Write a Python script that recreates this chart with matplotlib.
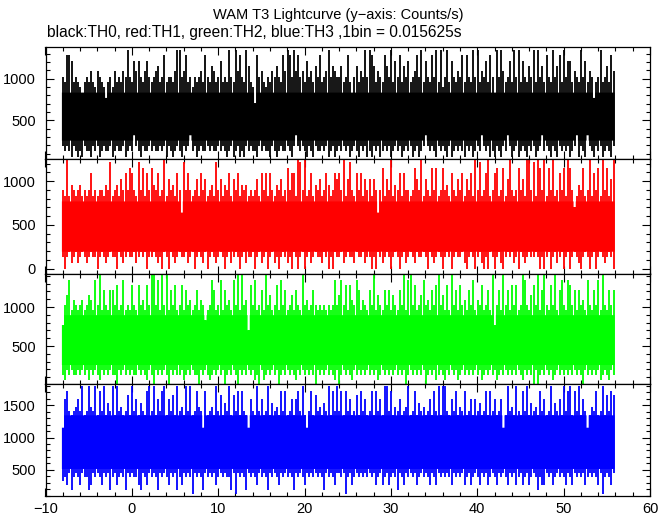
import numpy as np
import matplotlib
matplotlib.use('Agg')
import matplotlib.pyplot as plt
from matplotlib.ticker import MultipleLocator

plt.rcParams['font.family'] = ['Liberation Sans', 'DejaVu Sans']

# lightcurve: for every 0.25 s slice, the highest and lowest
# bin value (counts per 0.015625 s bin) drawn inside that slice
bin_size = 0.015625
t_start = -8.1
slice_len = 0.25

th0_max = [16, 15, 20, 20, 19, 15, 16, 15, 14, 13, 15, 16, 15, 17, 15, 14,
           17, 16, 15, 14, 12, 15, 16, 14, 17, 15, 16, 15, 17, 16, 21, 16,
           15, 19, 17, 19, 16, 15, 17, 19, 16, 15, 16, 17, 18, 15, 16, 20,
           15, 16, 16, 15, 17, 21, 21, 16, 17, 20, 15, 16, 14, 16, 15, 16,
           17, 15, 20, 16, 15, 18, 17, 15, 16, 19, 15, 16, 15, 21, 16, 15,
           21, 17, 20, 16, 15, 21, 18, 15, 14, 11, 20, 16, 17, 15, 14, 16,
           15, 17, 16, 18, 16, 15, 20, 17, 21, 20, 16, 21, 17, 20, 16, 17,
           15, 19, 16, 17, 15, 18, 16, 20, 15, 16, 17, 21, 16, 18, 17, 16,
           16, 18, 15, 16, 20, 15, 13, 16, 18, 15, 17, 16, 21, 16, 21, 20,
           18, 15, 17, 16, 15, 20, 18, 16, 21, 15, 19, 16, 20, 15, 18, 16,
           19, 15, 16, 17, 20, 16, 21, 15, 19, 16, 15, 20, 16, 21, 15, 21,
           14, 16, 21, 15, 19, 16, 15, 17, 16, 20, 15, 20, 16, 15, 21, 16,
           21, 15, 17, 16, 19, 15, 20, 16, 13, 21, 16, 21, 17, 15, 16, 19,
           15, 21, 16, 21, 15, 19, 16, 15, 18, 16, 21, 15, 21, 16, 18, 15,
           20, 16, 15, 21, 16, 18, 20, 15, 21, 16, 19, 19, 15, 17, 16, 15,
           21, 16, 19, 15, 17, 16, 12, 15, 16, 21, 15, 16, 18, 15, 20, 17]
th0_min = [3, 2, 3, 2, 1, 3, 2, 1, 2, 1, 3, 2, 2, 1, 3, 2,
           3, 1, 2, 3, 2, 2, 3, 1, 2, 3, 2, 2, 3, 1, 2, 3,
           2, 5, 3, 2, 1, 3, 2, 2, 3, 2, 3, 2, 2, 3, 2, 3,
           1, 3, 2, 1, 2, 3, 2, 1, 3, 2, 3, 5, 2, 3, 1, 2,
           3, 2, 2, 3, 2, 3, 2, 2, 3, 2, 3, 2, 1, 2, 3, 1,
           2, 3, 1, 2, 1, 3, 2, 3, 2, 2, 1, 3, 2, 3, 2, 2,
           1, 3, 2, 1, 2, 3, 2, 2, 3, 2, 1, 3, 5, 3, 2, 3,
           2, 1, 3, 2, 1, 3, 2, 2, 3, 2, 3, 1, 2, 3, 1, 2,
           3, 2, 3, 2, 3, 1, 2, 3, 2, 1, 3, 2, 3, 1, 2, 1,
           3, 2, 3, 1, 2, 3, 2, 3, 1, 2, 3, 2, 3, 1, 2, 3,
           2, 3, 1, 2, 3, 1, 2, 3, 5, 3, 2, 3, 2, 1, 3, 2,
           3, 2, 1, 3, 1, 2, 3, 2, 3, 2, 1, 3, 2, 3, 1, 2,
           3, 2, 5, 3, 2, 3, 1, 2, 1, 3, 2, 1, 3, 2, 5, 3,
           1, 2, 3, 1, 2, 3, 2, 1, 3, 2, 3, 1, 2, 3, 5, 2,
           3, 2, 1, 3, 2, 1, 3, 2, 3, 2, 3, 1, 2, 3, 5, 1,
           3, 2, 1, 5, 3, 2, 1, 3, 2, 3, 1, 2, 3, 2, 1, 3]

th1_max = [14, 13, 20, 13, 15, 14, 13, 14, 15, 13, 14, 13, 14, 17, 13, 14,
           13, 14, 14, 13, 15, 14, 19, 13, 14, 15, 13, 16, 14, 17, 14, 18,
           17, 14, 13, 19, 14, 18, 13, 17, 14, 18, 15, 14, 17, 13, 14, 20,
           13, 16, 14, 15, 13, 17, 14, 10, 19, 14, 17, 14, 13, 14, 16, 13,
           17, 14, 16, 13, 14, 15, 13, 19, 14, 16, 13, 15, 14, 17, 13, 16,
           14, 17, 13, 15, 14, 15, 13, 14, 13, 14, 16, 13, 17, 14, 17, 13,
           17, 14, 13, 15, 14, 16, 13, 14, 18, 14, 17, 17, 13, 20, 19, 14,
           20, 13, 14, 17, 13, 15, 14, 16, 13, 14, 17, 15, 13, 14, 17, 16,
           17, 14, 20, 13, 16, 19, 14, 13, 17, 14, 17, 13, 16, 14, 16, 13,
           16, 14, 10, 14, 18, 13, 16, 14, 20, 13, 15, 14, 17, 13, 17, 14,
           14, 13, 14, 18, 16, 14, 20, 13, 16, 14, 13, 18, 14, 18, 13, 14,
           18, 14, 15, 13, 17, 14, 13, 16, 14, 17, 13, 16, 14, 17, 13, 20,
           14, 19, 13, 14, 17, 20, 13, 14, 17, 18, 13, 14, 18, 13, 16, 20,
           14, 13, 14, 18, 14, 16, 13, 20, 20, 14, 19, 13, 20, 18, 14, 20,
           13, 18, 14, 20, 13, 14, 17, 14, 18, 13, 20, 18, 14, 11, 13, 15,
           14, 18, 13, 14, 20, 13, 17, 14, 18, 13, 20, 14, 18, 13, 16, 20]
th1_min = [2, 0, 2, 3, 1, 2, 3, 1, 2, 3, 2, 1, 2, 3, 2, 2,
           0, 2, 3, 2, 1, 2, 3, 2, 2, 0, 3, 2, 1, 2, 3, 2,
           2, 3, 1, 2, 3, 2, 3, 0, 2, 2, 3, 2, 1, 2, 0, 3,
           2, 0, 3, 2, 1, 2, 3, 2, 2, 3, 1, 2, 3, 0, 2, 3,
           2, 1, 3, 0, 2, 3, 2, 1, 2, 3, 2, 0, 2, 3, 1, 2,
           3, 2, 0, 2, 3, 1, 2, 2, 3, 0, 2, 3, 1, 2, 3, 0,
           2, 3, 1, 2, 0, 2, 3, 2, 1, 2, 0, 3, 2, 0, 2, 3,
           0, 2, 3, 1, 2, 3, 2, 2, 1, 3, 2, 0, 2, 0, 3, 2,
           2, 3, 1, 2, 3, 2, 2, 1, 3, 2, 2, 3, 1, 2, 2, 0,
           2, 0, 3, 2, 1, 2, 3, 2, 0, 2, 3, 2, 0, 2, 3, 1,
           2, 3, 2, 1, 3, 2, 2, 3, 2, 0, 3, 2, 1, 2, 3, 2,
           0, 2, 3, 2, 0, 2, 3, 2, 2, 3, 1, 0, 2, 3, 2, 0,
           2, 3, 1, 0, 2, 0, 3, 2, 0, 2, 3, 1, 0, 2, 3, 2,
           3, 1, 2, 0, 3, 2, 1, 2, 3, 2, 2, 3, 2, 0, 2, 0,
           2, 3, 0, 2, 3, 1, 2, 3, 0, 2, 3, 0, 2, 3, 2, 1,
           0, 2, 3, 2, 0, 2, 3, 0, 2, 3, 2, 1, 2, 3, 2, 0]

th2_max = [12, 16, 18, 21, 15, 17, 16, 15, 16, 17, 15, 16, 18, 17, 15, 21,
           16, 22, 15, 19, 16, 15, 19, 19, 16, 20, 15, 16, 21, 15, 16, 15,
           20, 16, 15, 20, 16, 17, 15, 20, 16, 22, 23, 16, 21, 15, 23, 16,
           23, 15, 19, 16, 20, 15, 16, 20, 15, 19, 16, 17, 15, 16, 19, 15,
           17, 16, 13, 15, 16, 21, 19, 15, 16, 21, 15, 19, 16, 17, 15, 21,
           16, 23, 15, 22, 16, 17, 11, 20, 16, 21, 15, 16, 19, 15, 22, 16,
           18, 15, 16, 20, 15, 21, 16, 19, 15, 16, 18, 15, 19, 16, 15, 23,
           16, 17, 15, 16, 19, 16, 15, 16, 15, 16, 15, 16, 15, 16, 21, 16,
           18, 21, 16, 20, 15, 20, 17, 16, 21, 19, 15, 17, 16, 15, 19, 16,
           23, 15, 18, 16, 15, 19, 16, 19, 15, 18, 16, 15, 19, 16, 23, 15,
           21, 23, 16, 20, 15, 16, 18, 21, 16, 17, 15, 19, 16, 20, 22, 16,
           18, 15, 20, 15, 23, 16, 19, 15, 20, 16, 17, 15, 19, 16, 21, 15,
           17, 16, 20, 15, 16, 19, 15, 22, 12, 16, 19, 15, 22, 16, 19, 15,
           20, 16, 20, 15, 16, 22, 21, 16, 15, 18, 20, 16, 22, 15, 19, 23,
           16, 15, 20, 16, 23, 15, 19, 21, 16, 15, 21, 20, 16, 19, 15, 19,
           16, 17, 15, 21, 16, 15, 19, 16, 21, 15, 23, 16, 15, 19, 16, 19]
th2_min = [2, 1, 3, 2, 3, 2, 2, 3, 2, 3, 2, 3, 1, 3, 2, 3,
           2, 1, 3, 2, 3, 2, 3, 2, 2, 0, 3, 2, 3, 2, 3, 2,
           3, 2, 2, 3, 2, 3, 2, 1, 3, 2, 0, 3, 2, 3, 2, 3,
           2, 0, 3, 2, 3, 2, 2, 3, 1, 2, 3, 2, 3, 2, 2, 0,
           3, 2, 3, 2, 1, 2, 3, 2, 3, 2, 3, 0, 2, 3, 2, 3,
           2, 0, 3, 2, 3, 2, 3, 2, 3, 1, 2, 0, 3, 1, 2, 3,
           2, 3, 2, 3, 0, 2, 3, 2, 3, 2, 3, 2, 1, 3, 2, 3,
           2, 3, 2, 3, 2, 0, 3, 2, 3, 2, 3, 2, 3, 2, 1, 3,
           0, 2, 3, 2, 3, 2, 1, 3, 2, 3, 2, 3, 2, 3, 2, 3,
           2, 3, 1, 2, 3, 2, 3, 2, 3, 2, 3, 2, 3, 2, 3, 0,
           2, 3, 2, 3, 2, 3, 2, 3, 0, 2, 3, 2, 3, 1, 2, 3,
           2, 1, 3, 2, 3, 2, 3, 1, 2, 3, 2, 3, 2, 3, 2, 3,
           2, 3, 1, 2, 3, 2, 3, 2, 3, 1, 2, 3, 2, 3, 2, 3,
           2, 3, 2, 3, 2, 1, 3, 2, 3, 2, 0, 3, 0, 2, 3, 2,
           3, 2, 3, 1, 2, 3, 2, 3, 2, 3, 2, 3, 2, 3, 2, 3,
           2, 0, 3, 2, 3, 2, 3, 2, 3, 1, 2, 3, 2, 1, 3, 2]

th3_max = [18, 25, 27, 22, 21, 22, 23, 25, 22, 28, 21, 22, 28, 23, 22, 28,
           21, 27, 22, 28, 21, 24, 22, 28, 21, 28, 22, 23, 21, 22, 26, 21,
           28, 22, 25, 21, 24, 22, 21, 27, 28, 22, 28, 21, 25, 22, 27, 28,
           21, 25, 22, 26, 21, 28, 22, 23, 21, 28, 22, 28, 21, 22, 27, 23,
           22, 18, 27, 21, 22, 23, 21, 28, 22, 26, 21, 24, 22, 28, 21, 26,
           22, 27, 21, 27, 22, 21, 18, 25, 22, 21, 28, 22, 25, 21, 22, 28,
           21, 24, 22, 23, 21, 27, 22, 27, 21, 22, 25, 21, 25, 27, 22, 28,
           21, 18, 22, 27, 21, 26, 22, 23, 21, 24, 22, 28, 21, 27, 22, 28,
           22, 27, 21, 27, 22, 25, 21, 22, 26, 21, 27, 22, 25, 21, 22, 27,
           21, 27, 22, 25, 21, 28, 28, 22, 27, 21, 23, 22, 25, 21, 22, 23,
           28, 21, 22, 27, 21, 24, 22, 23, 21, 22, 25, 21, 27, 22, 28, 21,
           28, 28, 22, 21, 25, 22, 27, 21, 23, 22, 27, 21, 22, 25, 21, 25,
           22, 24, 21, 22, 27, 21, 27, 22, 25, 21, 22, 25, 18, 21, 28, 22,
           23, 21, 28, 22, 21, 27, 22, 28, 21, 24, 22, 23, 21, 27, 22, 25,
           21, 22, 28, 21, 24, 22, 25, 21, 28, 22, 27, 28, 21, 27, 22, 28,
           21, 25, 22, 18, 21, 23, 22, 27, 21, 22, 28, 21, 26, 22, 27, 26]
th3_min = [5, 6, 4, 7, 3, 6, 7, 6, 4, 7, 6, 6, 3, 4, 7, 6,
           7, 6, 4, 7, 6, 7, 3, 6, 7, 4, 6, 7, 6, 3, 7, 6,
           7, 6, 6, 4, 3, 7, 6, 4, 7, 6, 7, 6, 3, 7, 6, 7,
           6, 4, 7, 6, 7, 3, 6, 4, 7, 6, 7, 6, 2, 7, 6, 7,
           6, 3, 7, 6, 7, 6, 7, 4, 6, 7, 6, 7, 6, 6, 3, 7,
           2, 7, 6, 7, 6, 3, 7, 6, 7, 6, 4, 7, 6, 7, 6, 3,
           7, 6, 7, 6, 4, 7, 6, 7, 6, 7, 6, 3, 7, 6, 7, 6,
           4, 7, 6, 7, 6, 7, 6, 7, 6, 3, 7, 6, 7, 6, 4, 7,
           7, 6, 7, 2, 6, 7, 4, 6, 7, 6, 7, 6, 7, 6, 7, 6,
           7, 4, 6, 7, 4, 6, 7, 4, 6, 7, 6, 3, 7, 6, 4, 7,
           6, 7, 6, 7, 4, 6, 7, 6, 7, 6, 4, 7, 6, 4, 7, 6,
           7, 6, 7, 6, 4, 7, 6, 7, 6, 7, 4, 6, 7, 4, 6, 7,
           6, 4, 7, 6, 7, 4, 6, 7, 6, 4, 7, 6, 7, 6, 4, 7,
           6, 7, 4, 6, 7, 4, 6, 7, 4, 6, 7, 6, 3, 6, 4, 4,
           7, 6, 7, 4, 6, 7, 6, 7, 6, 4, 7, 6, 4, 7, 6, 7,
           6, 7, 4, 6, 7, 6, 7, 6, 4, 7, 2, 6, 7, 6, 4, 7]

# level range (counts per bin) where each band is solid
core_lo = [4, 3, 4, 8]
core_hi = [13, 12, 14, 21]

series_max = [th0_max, th1_max, th2_max, th3_max]
series_min = [th0_min, th1_min, th2_min, th3_min]
colors = ['#000000', '#ff0000', '#00ff00', '#0000ff']
ylims = [(32, 1375), (-57, 1250), (9, 1430), (93, 1825)]

W, H = 672, 515
fig = plt.figure(figsize=(W / 100, H / 100), dpi=100)

# panel edges in pixels, top to bottom
edges_px = [47.3, 159.3, 273.5, 384.3, 496]
left, right = 45.5, 650

for i in range(4):
    top, bot = edges_px[i], edges_px[i + 1]
    ax = fig.add_axes([left / W, (H - bot) / H, (right - left) / W, (bot - top) / H])
    n = min(len(series_max[i]), len(series_min[i]))
    hi = np.array(series_max[i][:n])
    lo = np.array(series_min[i][:n])
    t_edges = t_start + slice_len * np.arange(n + 1)
    t_mid = t_edges[:-1] + slice_len / 2

    # solid middle of the band, then one stroke per slice for the spikes
    solid_hi = np.minimum(hi, core_hi[i]) / bin_size
    solid_lo = np.maximum(lo, core_lo[i]) / bin_size
    ax.stairs(solid_hi, t_edges, baseline=solid_lo, fill=True, color=colors[i], lw=0)
    ax.vlines(t_mid, lo / bin_size, hi / bin_size, color=colors[i], lw=1.3)

    ax.set_xlim(-10, 60)
    ax.set_ylim(*ylims[i])
    ax.xaxis.set_major_locator(MultipleLocator(10))
    ax.xaxis.set_minor_locator(MultipleLocator(2))
    ax.yaxis.set_major_locator(MultipleLocator(500))
    ax.yaxis.set_minor_locator(MultipleLocator(100))
    ax.tick_params(which='both', direction='in', top=True, right=True, width=0.8,
                   labelsize=10.5, colors='black')
    ax.tick_params(which='major', length=5.5)
    ax.tick_params(which='minor', length=2.8)
    ax.tick_params(axis='y', pad=7)
    ax.tick_params(axis='x', pad=4.5)
    if i < 3:
        ax.tick_params(axis='x', labelbottom=False)
    for s in ax.spines.values():
        s.set_linewidth(0.9)

fig.text(338 / W, 1 - 15.5 / H, 'WAM T3 Lightcurve (y\u2212axis: Counts/s)',
         ha='center', va='center', fontsize=10.5)
fig.text(47 / W, 1 - 33 / H,
         'black:TH0, red:TH1, green:TH2, blue:TH3 ,1bin = 0.015625s',
         ha='left', va='center', fontsize=11.2)

plt.savefig('out.png', dpi=100)
